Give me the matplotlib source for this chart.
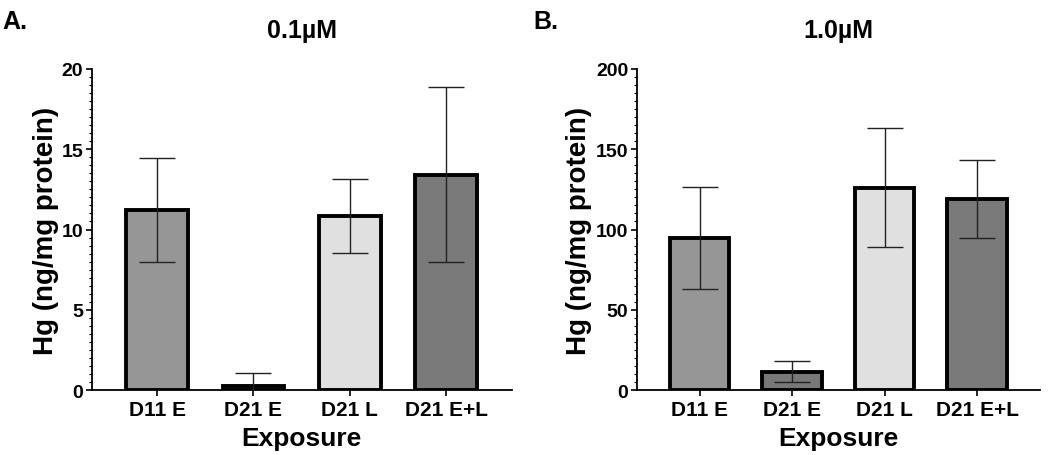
import matplotlib.pyplot as plt
import numpy as np
from matplotlib.ticker import MultipleLocator

plt.rcParams['font.family'] = ['Liberation Sans', 'DejaVu Sans']
plt.rcParams['font.weight'] = 'bold'

categories = ["D11 E", "D21 E", "D21 L", "D21 E+L"]
bar_colors = ["#969696", "#787878", "#e0e0e0", "#7a7a7a"]

# panel A, 0.1 uM
low_means = [11.2, 0.28, 10.85, 13.4]
low_err = [3.25, 0.78, 2.3, 5.45]

# panel B, 1.0 uM
high_means = [94.5, 11.5, 126.0, 119.0]
high_err = [31.7, 6.6, 37.2, 24.2]


def draw_panel(ax, means, errs, ymax, major, minor, title, ylab_x):
    x = np.arange(len(categories))
    ax.bar(x, means, width=0.64, color=bar_colors, edgecolor="black",
           linewidth=2.8, zorder=2)
    ax.errorbar(x, means, yerr=errs, fmt="none", ecolor="#222222",
                elinewidth=1.0, capsize=13, capthick=1.0, zorder=3)
    ax.set_xlim(-0.68, 3.68)
    ax.set_ylim(0, ymax)
    ax.yaxis.set_major_locator(MultipleLocator(major))
    ax.yaxis.set_minor_locator(MultipleLocator(minor))
    ax.set_xticks(x)
    ax.set_xticklabels(categories, fontsize=15, fontweight="bold")
    for lbl in ax.get_yticklabels():
        lbl.set_fontsize(14)
        lbl.set_fontweight("bold")
    ax.tick_params(axis="y", which="major", length=4, width=1.2, pad=2)
    ax.tick_params(axis="y", which="minor", length=2, width=0.8)
    ax.tick_params(axis="x", length=4, width=1.2, pad=3)
    for side in ("top", "right"):
        ax.spines[side].set_visible(False)
    for side in ("left", "bottom"):
        ax.spines[side].set_linewidth(1.3)
    ax.set_xlabel("Exposure", fontsize=19, fontweight="bold")
    ax.set_ylabel("Hg (ng/mg protein)", fontsize=20, fontweight="bold")
    ax.xaxis.set_label_coords(0.5, -0.112)
    ax.yaxis.set_label_coords(ylab_x, 0.5)
    ax.set_title(title, fontsize=18, fontweight="bold", pad=23)


fig = plt.figure(figsize=(10.5, 4.56), dpi=100)
ax1 = fig.add_axes([0.0873, 0.1425, 0.40, 0.704])
ax2 = fig.add_axes([0.6064, 0.1425, 0.384, 0.704])

draw_panel(ax1, low_means, low_err, 20, 5, 0.5, "0.1\u00b5M", -0.078)
draw_panel(ax2, high_means, high_err, 200, 50, 5, "1.0\u00b5M", -0.112)

fig.text(0.002, 0.937, "A.", fontsize=18, fontweight="bold")
fig.text(0.508, 0.937, "B.", fontsize=18, fontweight="bold")

fig.savefig("out.png", dpi=100)
